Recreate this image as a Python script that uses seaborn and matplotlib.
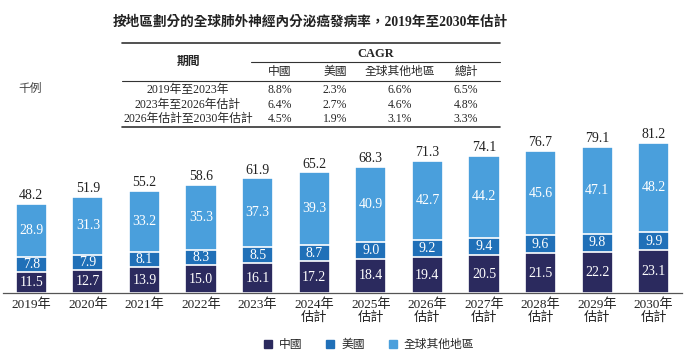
import pandas as pd
import seaborn as sns
import matplotlib.pyplot as plt
from matplotlib.lines import Line2D
from matplotlib.patches import Patch

years = ['2019年', '2020年', '2021年', '2022年', '2023年', '2024年\n估計', '2025年\n估計',
         '2026年\n估計', '2027年\n估計', '2028年\n估計', '2029年\n估計', '2030年\n估計']
china = [11.5, 12.7, 13.9, 15.0, 16.1, 17.2, 18.4, 19.4, 20.5, 21.5, 22.2, 23.1]
usa = [7.8, 7.9, 8.1, 8.3, 8.5, 8.7, 9.0, 9.2, 9.4, 9.6, 9.8, 9.9]
rest = [28.9, 31.3, 33.2, 35.3, 37.3, 39.3, 40.9, 42.7, 44.2, 45.6, 47.1, 48.2]
totals = [48.2, 51.9, 55.2, 58.6, 61.9, 65.2, 68.3, 71.3, 74.1, 76.7, 79.1, 81.2]

periods = ['2019年至2023年', '2023年至2026年估計', '2026年估計至2030年估計']
cagr_cols = ['中國', '美國', '全球其他地區', '總計']
cagr = [['8.8%', '2.3%', '6.6%', '6.5%'],
        ['6.4%', '2.7%', '4.6%', '4.8%'],
        ['4.5%', '1.9%', '3.1%', '3.3%']]

c_china = '#2b2a5e'
c_usa = '#2070b8'
c_rest = '#4a9fdc'

sns.set_style('white')
plt.rcParams['font.family'] = ['Liberation Serif', 'Noto Sans CJK TC']

df = pd.DataFrame({'year': years, 'china': china, 'usa': usa, 'rest': rest, 'total': totals})
df['cu'] = df['china'] + df['usa']
df['all'] = df['cu'] + df['rest']

W, H = 692, 361
fig = plt.figure(figsize=(W / 100, H / 100), dpi=100)


def fx(x):
    return x / W


def fy(y):
    return 1 - y / H


ax = fig.add_axes([fx(3), fy(293), fx(679), (293 - 130) / H])
for col, c in [('all', c_rest), ('cu', c_usa), ('china', c_china)]:
    sns.barplot(data=df, x='year', y=col, color=c, width=0.55, edgecolor='white',
                linewidth=1.2, saturation=1, ax=ax)

for i in range(len(years)):
    ax.text(i, china[i] / 2, f'{china[i]:.1f}', ha='center', va='center', color='white', fontsize=10)
    ax.text(i, china[i] + usa[i] / 2, f'{usa[i]:.1f}', ha='center', va='center', color='white', fontsize=10)
    ax.text(i, china[i] + usa[i] + rest[i] / 2, f'{rest[i]:.1f}', ha='center', va='center',
            color='white', fontsize=10)
    ax.text(i, df['all'][i] + 0.9, f'{totals[i]:.1f}', ha='center', va='bottom', color='#222222',
            fontsize=10)

ax.set_xlim(-0.5, 11.5)
ax.set_ylim(0, 88.1)
ax.set_xlabel('')
ax.set_ylabel('')
ax.set_yticks([])
for s in ['top', 'right', 'left']:
    ax.spines[s].set_visible(False)
ax.spines['bottom'].set_color('#555555')
ax.spines['bottom'].set_linewidth(0.9)
ax.set_xticks(range(len(years)))
ax.set_xticklabels(years, fontsize=9.5, color='#222222', linespacing=1.0)
ax.tick_params(axis='x', which='major', length=0, pad=4)
ax.set_xticks([i - 0.5 for i in range(len(years) + 1)], minor=True)
ax.tick_params(axis='x', which='minor', length=4, color='#555555', direction='out')

# title
fig.text(fx(310), fy(22), '按地區劃分的全球肺外神經內分泌癌發病率，2019年至2030年估計',
         ha='center', va='center', fontsize=9.8, fontweight='bold', color='#222222')

# CAGR table
def hline(x0, x1, y, lw):
    fig.add_artist(Line2D([fx(x0), fx(x1)], [fy(y), fy(y)], color='#333333', lw=lw))


hline(122, 500, 42.5, 1.2)
hline(251, 500, 62, 0.8)
hline(122, 500, 81, 0.8)
hline(122, 500, 127, 1.2)

fig.text(fx(188), fy(62), '期間', ha='center', va='center', fontsize=8.5, fontweight='bold')
fig.text(fx(376), fy(54), 'CAGR', ha='center', va='center', fontsize=9, fontweight='bold')
col_x = [280, 335, 400, 466]
for cx, name in zip(col_x, cagr_cols):
    fig.text(fx(cx), fy(72), name, ha='center', va='center', fontsize=8.5)
row_y = [90, 105, 119]
for ry, p, vals in zip(row_y, periods, cagr):
    fig.text(fx(188), fy(ry), p, ha='center', va='center', fontsize=8.5)
    for cx, v in zip(col_x, vals):
        fig.text(fx(cx), fy(ry), v, ha='center', va='center', fontsize=8.5)

fig.text(fx(30), fy(89), '千例', ha='center', va='center', fontsize=8.5, color='#444444')

handles = [Patch(color=c_china, label='中國'), Patch(color=c_usa, label='美國'),
           Patch(color=c_rest, label='全球其他地區')]
fig.legend(handles=handles, loc='center', bbox_to_anchor=(fx(369), fy(345)), ncol=3,
           frameon=False, fontsize=8.5, handlelength=0.7, handleheight=0.7,
           handletextpad=0.6, columnspacing=2.0)

fig.savefig('out.png', dpi=100)
